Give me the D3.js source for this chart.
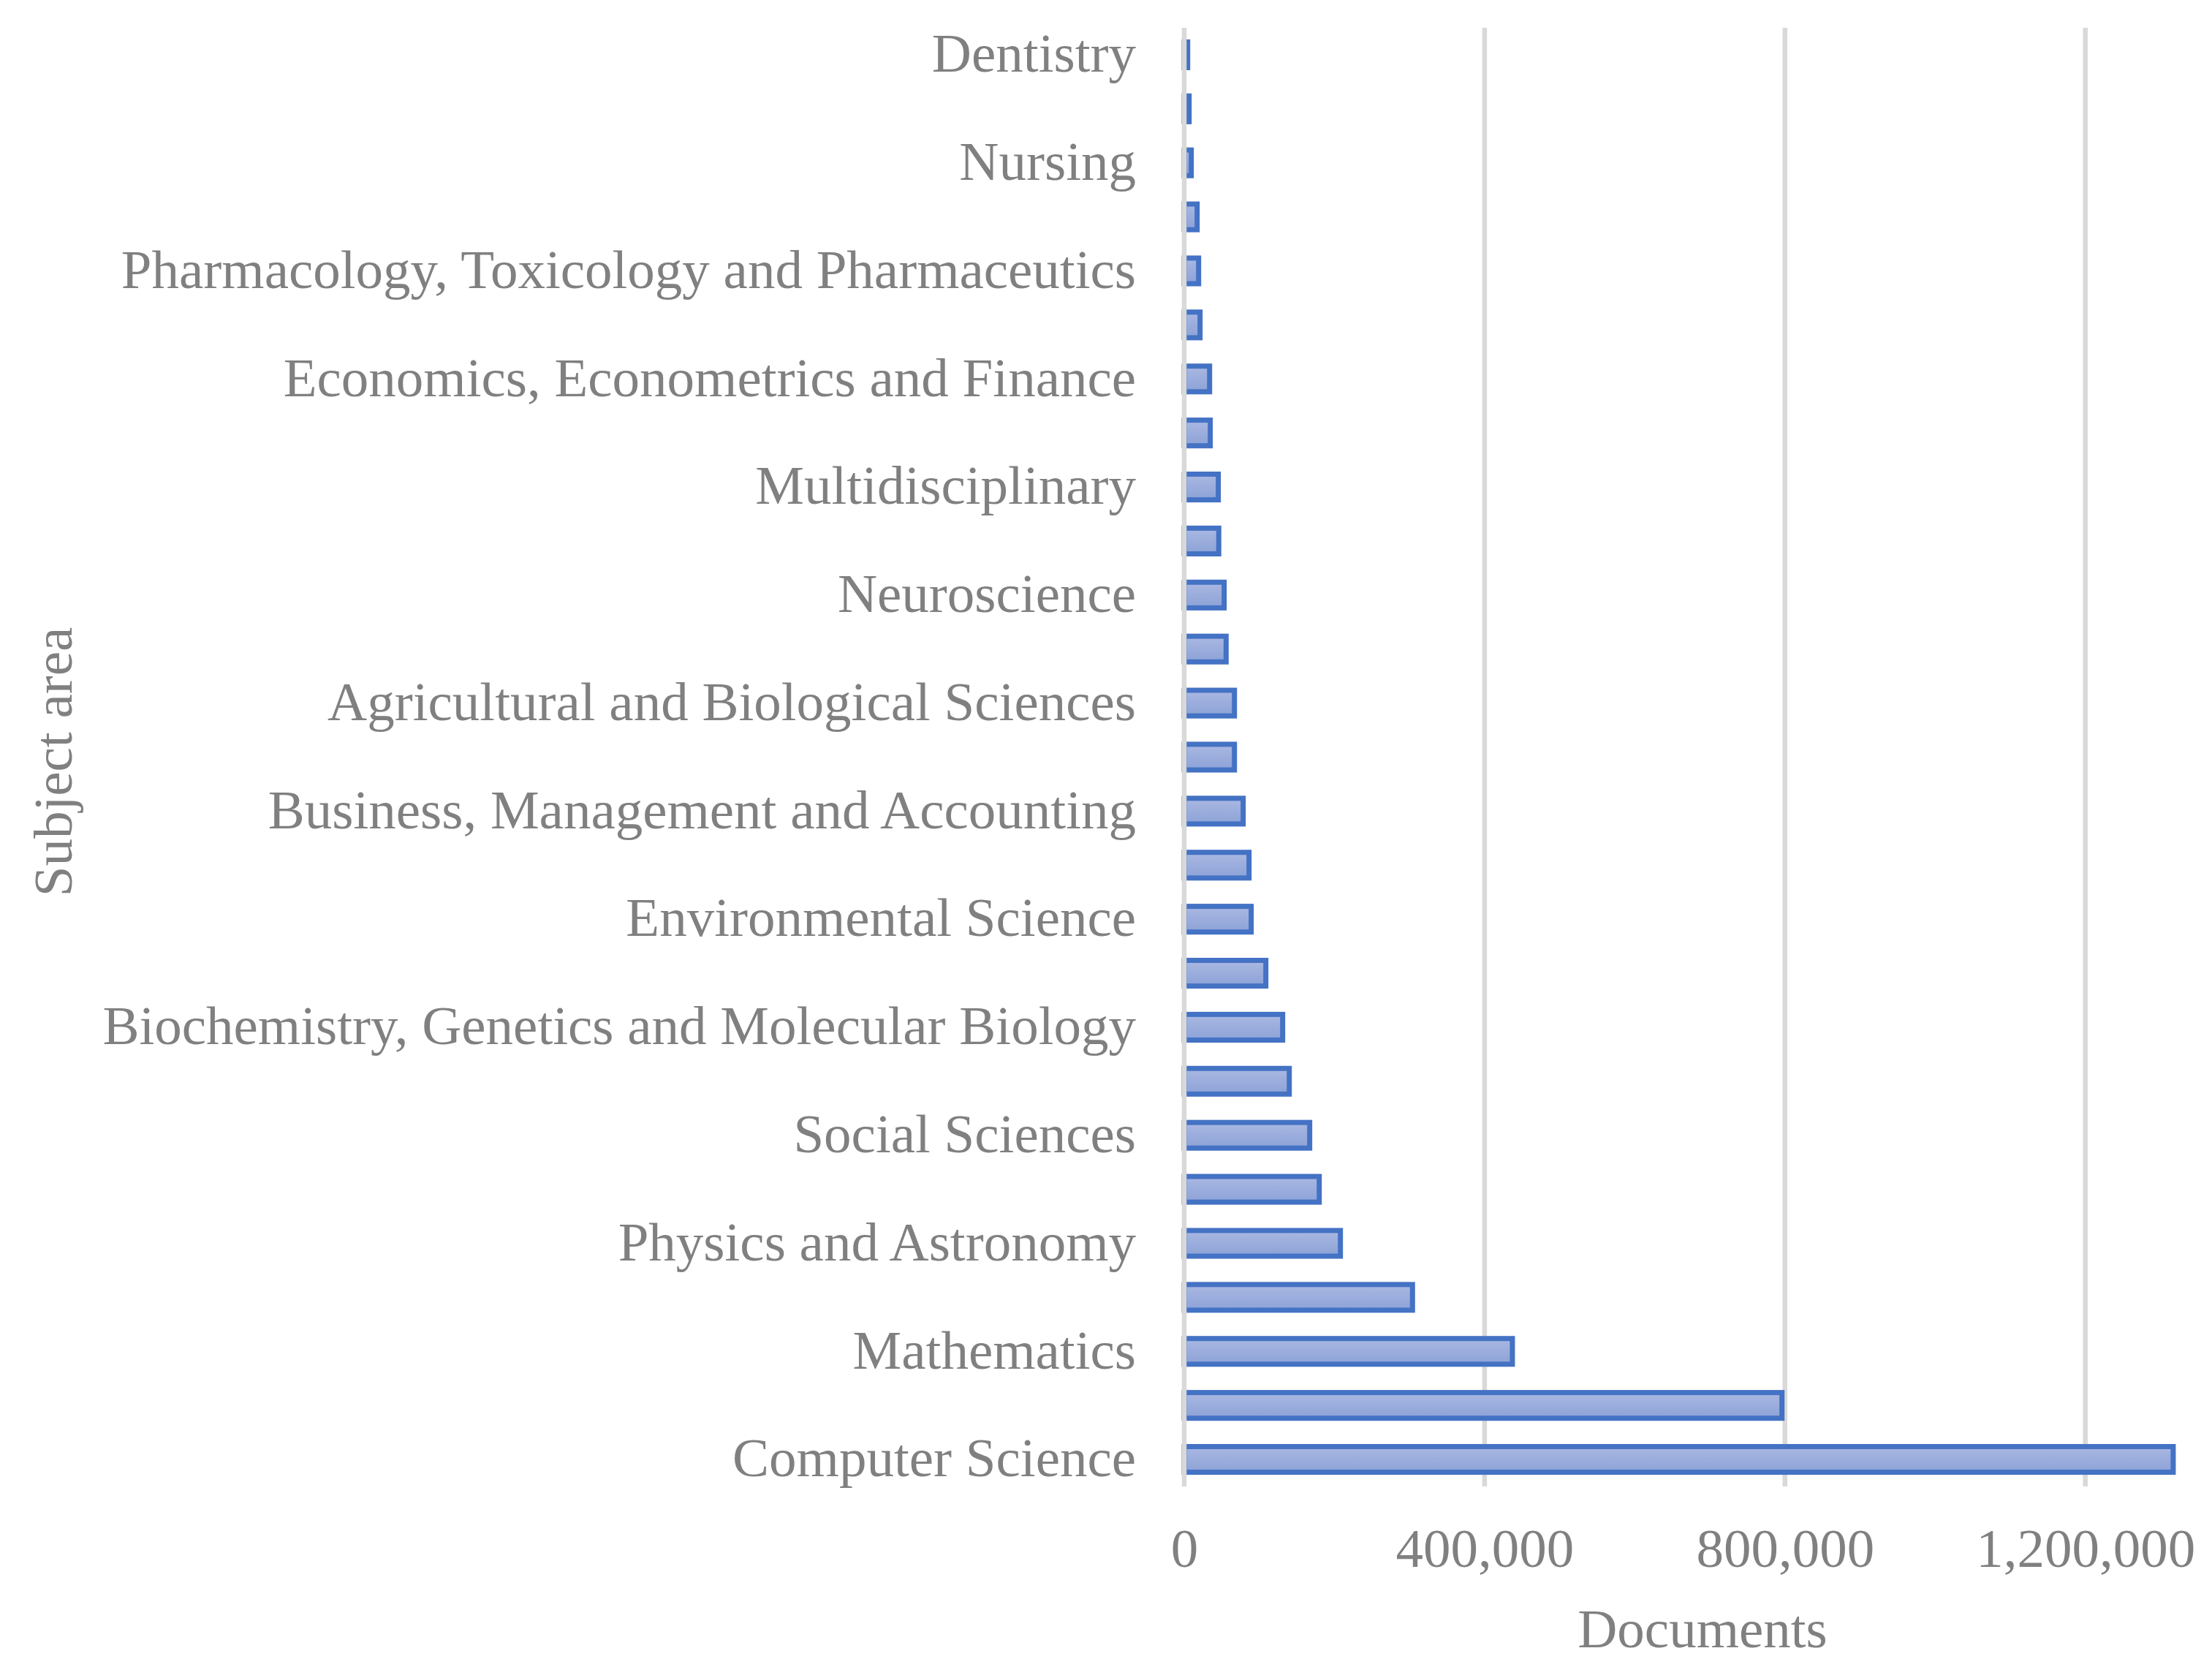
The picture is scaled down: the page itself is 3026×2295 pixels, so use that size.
<!DOCTYPE html>
<html>
<head>
<meta charset="utf-8">
<script src="https://cdn.jsdelivr.net/npm/d3@7"></script>
<style>
  body { margin: 0; background: #fff; }
</style>
</head>
<body>
<div id="chart"></div>
<script>
// subject areas, top to bottom as in the chart
const categories = [
  "Dentistry", "Veterinary", "Nursing", "Health Professions",
  "Pharmacology, Toxicology and Pharmaceutics", "Immunology and Microbiology",
  "Economics, Econometrics and Finance", "Chemical Engineering",
  "Multidisciplinary", "Arts and Humanities", "Neuroscience", "Psychology",
  "Agricultural and Biological Sciences", "Chemistry",
  "Business, Management and Accounting", "Earth and Planetary Sciences",
  "Environmental Science", "Energy",
  "Biochemistry, Genetics and Molecular Biology", "Medicine",
  "Social Sciences", "Materials Science", "Physics and Astronomy",
  "Decision Sciences", "Mathematics", "Engineering", "Computer Science"
];

const documents = [
  4600, 6500, 9400, 17200, 19200, 21100, 33800, 34700, 45400, 46000,
  53200, 55800, 66900, 66900, 78500, 86300, 89200, 108700, 131100, 139900,
  167100, 179800, 208000, 304000, 437000, 796000, 1317000
];

const xTicks = [0, 400000, 800000, 1200000];

const xTitle = "Documents";
const yTitle = "Subject area";

const chart = () => {
  const width = 3026, height = 2295;
  const left = 1620, right = 2976, top = 38, bottom = 2033;
  const font = "'Liberation Serif', 'Times New Roman', serif";
  const textColor = "#808080";
  const sw = 7;

  let svg = d3.select('#chart')
    .append("svg")
    .attr("width", width)
    .attr("height", height);

  let grad = svg.append("defs")
    .append("linearGradient")
    .attr("id", "barFill")
    .attr("x1", 0).attr("y1", 0)
    .attr("x2", 0).attr("y2", 1);
  grad.append("stop").attr("offset", "0%").attr("stop-color", "#aab8e2");
  grad.append("stop").attr("offset", "100%").attr("stop-color", "#8ca2d7");

  var x = d3.scaleLinear()
    .domain([0, 1320000])
    .range([left, right]);

  var y = d3.scaleBand()
    .domain(categories)
    .range([top, bottom])
    .paddingInner(0.43)
    .paddingOuter(0.215);

  // vertical gridlines
  svg.append("g")
    .selectAll("line")
    .data(xTicks.filter(d => d > 0))
    .enter()
    .append("line")
    .attr("x1", d => x(d))
    .attr("x2", d => x(d))
    .attr("y1", top)
    .attr("y2", bottom)
    .attr("stroke", "#d9d9d9")
    .attr("stroke-width", 6.5);

  let data = categories.map((c, i) => ({ name: c, value: documents[i] }));

  svg.append("g")
    .selectAll("rect")
    .data(data)
    .enter()
    .append("rect")
    .attr("x", x(0))
    .attr("y", d => y(d.name) + sw / 2)
    .attr("width", d => Math.max(0.5, x(d.value) - x(0)))
    .attr("height", y.bandwidth() - sw)
    .attr("fill", "url(#barFill)")
    .attr("stroke", "#4472c4")
    .attr("stroke-width", sw)
    .attr("stroke-linejoin", "miter");

  // zero line sits over the bar ends
  svg.append("line")
    .attr("x1", x(0)).attr("x2", x(0))
    .attr("y1", top).attr("y2", bottom)
    .attr("stroke", "#d9d9d9")
    .attr("stroke-width", 6.5);

  // category axis, every other label shown
  let yAxis = svg.append("g")
    .attr("transform", `translate(${x(0)},0)`)
    .call(d3.axisLeft(y)
      .tickValues(categories.filter((c, i) => i % 2 === 0))
      .tickSize(0)
      .tickPadding(66));
  yAxis.select(".domain").remove();
  yAxis.selectAll("text")
    .attr("font-family", font)
    .attr("font-size", 75)
    .attr("fill", textColor)
    .attr("dy", "0.31em");

  // value axis
  let xAxis = svg.append("g")
    .attr("transform", `translate(0,${bottom})`)
    .call(d3.axisBottom(x)
      .tickValues(xTicks)
      .tickFormat(d3.format(","))
      .tickSize(0)
      .tickPadding(57));
  xAxis.select(".domain").remove();
  xAxis.selectAll("text")
    .attr("font-family", font)
    .attr("font-size", 75)
    .attr("fill", textColor);

  svg.append("text")
    .attr("x", 2329)
    .attr("y", 2253)
    .attr("text-anchor", "middle")
    .attr("font-family", font)
    .attr("font-size", 75)
    .attr("fill", textColor)
    .text(xTitle);

  svg.append("text")
    .attr("transform", "translate(98,1042) rotate(-90)")
    .attr("text-anchor", "middle")
    .attr("font-family", font)
    .attr("font-size", 75)
    .attr("fill", textColor)
    .text(yTitle);
};

chart();
</script>
</body>
</html>
